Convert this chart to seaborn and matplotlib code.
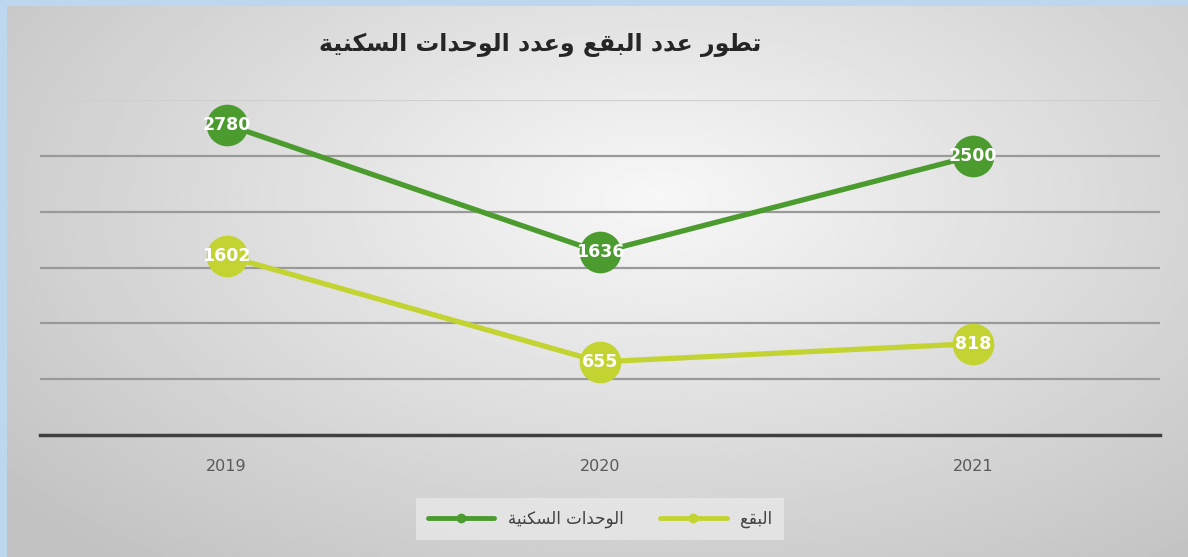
import numpy as np
import pandas as pd
import matplotlib
matplotlib.use("Agg")
import matplotlib.pyplot as plt
from matplotlib.lines import Line2D
import seaborn as sns

# data
years = ["2019", "2020", "2021"]
units = [2780, 1636, 2500]     # الوحدات السكنية
plots = [1602, 655, 818]       # البقع
series_names = ["الوحدات السكنية", "البقع"]
title_text = "تطور عدد البقع وعدد الوحدات السكنية"
colors = ["#4b9b2f", "#c3d432"]

# matplotlib 3.10 does no arabic shaping, so map letters to presentation forms
FORMS = {
    "ا": ("\uFE8D", "\uFE8E"), "ة": ("\uFE93", "\uFE94"), "د": ("\uFEA9", "\uFEAA"),
    "ر": ("\uFEAD", "\uFEAE"), "و": ("\uFEED", "\uFEEE"),
    "ب": ("\uFE8F", "\uFE90", "\uFE91", "\uFE92"), "ت": ("\uFE95", "\uFE96", "\uFE97", "\uFE98"),
    "ح": ("\uFEA1", "\uFEA2", "\uFEA3", "\uFEA4"), "س": ("\uFEB1", "\uFEB2", "\uFEB3", "\uFEB4"),
    "ط": ("\uFEC1", "\uFEC2", "\uFEC3", "\uFEC4"), "ع": ("\uFEC9", "\uFECA", "\uFECB", "\uFECC"),
    "ق": ("\uFED5", "\uFED6", "\uFED7", "\uFED8"), "ك": ("\uFED9", "\uFEDA", "\uFEDB", "\uFEDC"),
    "ل": ("\uFEDD", "\uFEDE", "\uFEDF", "\uFEE0"), "ن": ("\uFEE5", "\uFEE6", "\uFEE7", "\uFEE8"),
    "ي": ("\uFEF1", "\uFEF2", "\uFEF3", "\uFEF4"),
}


def shape(text):
    out = []
    for i, ch in enumerate(text):
        if ch not in FORMS:
            out.append(ch)
            continue
        prev = text[i - 1] if i > 0 else ""
        nxt = text[i + 1] if i + 1 < len(text) else ""
        join_prev = prev in FORMS and len(FORMS[prev]) == 4
        join_next = len(FORMS[ch]) == 4 and nxt in FORMS
        f = FORMS[ch]
        if join_prev and join_next:
            out.append(f[3])
        elif join_prev:
            out.append(f[1])
        elif join_next:
            out.append(f[2])
        else:
            out.append(f[0])
    return "".join(out)[::-1]


df = pd.DataFrame({
    "year": years * 2,
    "value": units + plots,
    "series": [series_names[0]] * 3 + [series_names[1]] * 3,
})

sns.set_style("white")
plt.rcParams["font.family"] = ["DejaVu Sans"]

fig = plt.figure(figsize=(11.88, 5.57), dpi=100)
fig.patch.set_facecolor("#bdd7ee")

# gradient background panel
bg = fig.add_axes([7 / 1188, 0, 1 - 7 / 1188, 1 - 6 / 557])
yy, xx = np.mgrid[0:1:300j, 0:1:600j]
r = np.sqrt(((xx - 0.55) / 0.75) ** 2 + ((yy - 0.35) / 0.9) ** 2)
grad = np.clip(0.97 - 0.22 * r, 0.76, 0.97)
bg.imshow(grad, cmap="gray", vmin=0, vmax=1, aspect="auto", extent=[0, 1, 1, 0])
bg.set_axis_off()

ax = fig.add_axes([40 / 1188, 1 - 435 / 557, 1120 / 1188, 335 / 557])
ax.patch.set_alpha(0)

sns.lineplot(data=df, x="year", y="value", hue="series", palette=colors,
             sort=False, linewidth=3.8, marker="o", markersize=30,
             markeredgewidth=0, legend=False, ax=ax)

ax.set_xlim(-0.5, 2.5)
ax.set_ylim(0, 3000)
ax.set_yticks(np.arange(500, 3001, 500))
ax.yaxis.grid(True, color="#999999", linewidth=1.6)
ax.get_ygridlines()[-1].set_color("#cfcfcf")
ax.set_axisbelow(True)
ax.tick_params(axis="y", left=False, labelleft=False)
ax.tick_params(axis="x", bottom=False, labelsize=11.5, labelcolor="#595959", pad=14)
ax.set_xlabel("")
ax.set_ylabel("")
for s in ["top", "left", "right"]:
    ax.spines[s].set_visible(False)
ax.spines["bottom"].set_color("#404040")
ax.spines["bottom"].set_linewidth(2.5)

for vals in (units, plots):
    for i, v in enumerate(vals):
        ax.text(i, v, str(v), ha="center", va="center", color="white",
                fontsize=12.5, fontweight="bold", zorder=5)

fig.text(540 / 1188, 1 - 45 / 557, shape(title_text), ha="center", va="center",
         fontsize=17, fontweight="bold", color="#262626")

handles = [Line2D([], [], color=c, linewidth=3.5, marker="o", markersize=6)
           for c in colors]
leg = fig.legend(handles, [shape(n) for n in series_names], ncol=2,
                 loc="center", bbox_to_anchor=(600 / 1188, 1 - 519 / 557),
                 frameon=True, fontsize=12, handlelength=4, columnspacing=2.2,
                 labelcolor="#404040", fancybox=False, borderpad=0.7)
leg.get_frame().set_facecolor("#e8e8e8")
leg.get_frame().set_edgecolor("none")

fig.savefig("out.png", dpi=100)
